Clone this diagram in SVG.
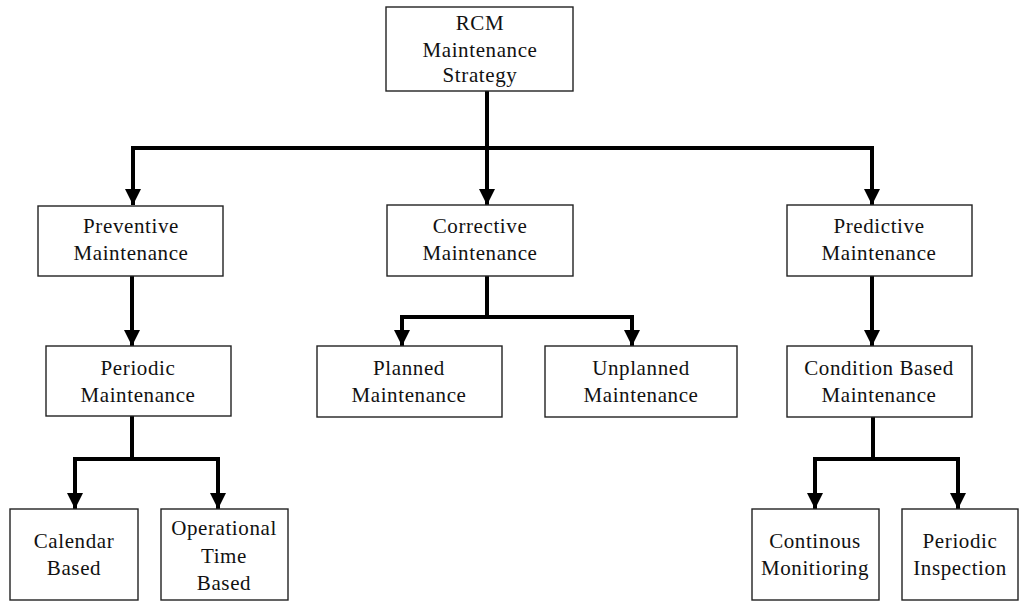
<svg xmlns="http://www.w3.org/2000/svg" width="1019" height="602" viewBox="0 0 1019 602">
  <style>
    .box { fill: #ffffff; stroke: #222222; stroke-width: 1.4; }
    .lbl { font-family: "Liberation Serif", "Times New Roman", serif; font-size: 21px; fill: #111111; text-anchor: middle; letter-spacing: 0.6px; }
    .wire { fill: none; stroke: #000000; stroke-width: 4; stroke-linejoin: miter; }
  </style>
  <defs>
    <!-- solid downward arrowhead for the tree connectors -->
    <marker id="head" markerUnits="userSpaceOnUse" markerWidth="16" markerHeight="16" viewBox="0 0 16 16" refX="16" refY="8" orient="auto">
      <path d="M0,0 L16,8 L0,16 Z" fill="#000000"/>
    </marker>
  </defs>

  <!-- connectors -->
  <g id="connectors">
    <path class="wire" d="M487,91 V148"/>
    <path class="wire" d="M487,148 H133 V205" marker-end="url(#head)"/>
    <path class="wire" d="M487,148 V205" marker-end="url(#head)"/>
    <path class="wire" d="M487,148 H872 V205" marker-end="url(#head)"/>

    <path class="wire" d="M132,276 V346" marker-end="url(#head)"/>
    <path class="wire" d="M872,276 V346" marker-end="url(#head)"/>

    <path class="wire" d="M487,276 V317"/>
    <path class="wire" d="M487,317 H402 V346" marker-end="url(#head)"/>
    <path class="wire" d="M487,317 H632 V346" marker-end="url(#head)"/>

    <path class="wire" d="M132,416 V459"/>
    <path class="wire" d="M132,459 H75 V509" marker-end="url(#head)"/>
    <path class="wire" d="M132,459 H218 V509" marker-end="url(#head)"/>

    <path class="wire" d="M873,416 V459"/>
    <path class="wire" d="M873,459 H815 V509" marker-end="url(#head)"/>
    <path class="wire" d="M873,459 H958 V509" marker-end="url(#head)"/>
  </g>

  <!-- nodes -->
  <g id="rcm">
    <rect class="box" x="386" y="7" width="187" height="84"/>
    <text class="lbl" x="480" y="30">RCM</text>
    <text class="lbl" x="480" y="57">Maintenance</text>
    <text class="lbl" x="480" y="82">Strategy</text>
  </g>

  <g id="preventive">
    <rect class="box" x="38" y="206" width="185" height="70"/>
    <text class="lbl" x="131" y="233">Preventive</text>
    <text class="lbl" x="131" y="260">Maintenance</text>
  </g>

  <g id="corrective">
    <rect class="box" x="387" y="205" width="186" height="71"/>
    <text class="lbl" x="480" y="233">Corrective</text>
    <text class="lbl" x="480" y="260">Maintenance</text>
  </g>

  <g id="predictive">
    <rect class="box" x="787" y="205" width="185" height="71"/>
    <text class="lbl" x="879" y="233">Predictive</text>
    <text class="lbl" x="879" y="260">Maintenance</text>
  </g>

  <g id="periodic">
    <rect class="box" x="46" y="346" width="185" height="70"/>
    <text class="lbl" x="138" y="375">Periodic</text>
    <text class="lbl" x="138" y="402">Maintenance</text>
  </g>

  <g id="planned">
    <rect class="box" x="317" y="346" width="185" height="71"/>
    <text class="lbl" x="409" y="375">Planned</text>
    <text class="lbl" x="409" y="402">Maintenance</text>
  </g>

  <g id="unplanned">
    <rect class="box" x="545" y="346" width="192" height="71"/>
    <text class="lbl" x="641" y="375">Unplanned</text>
    <text class="lbl" x="641" y="402">Maintenance</text>
  </g>

  <g id="condition-based">
    <rect class="box" x="787" y="346" width="185" height="71"/>
    <text class="lbl" x="879" y="375">Condition Based</text>
    <text class="lbl" x="879" y="402">Maintenance</text>
  </g>

  <g id="calendar-based">
    <rect class="box" x="10" y="509" width="128" height="91"/>
    <text class="lbl" x="74" y="548">Calendar</text>
    <text class="lbl" x="74" y="575">Based</text>
  </g>

  <g id="operational-time-based">
    <rect class="box" x="161" y="509" width="127" height="91"/>
    <text class="lbl" x="224" y="535">Operational</text>
    <text class="lbl" x="224" y="563">Time</text>
    <text class="lbl" x="224" y="590">Based</text>
  </g>

  <g id="continuous-monitoring">
    <rect class="box" x="752" y="509" width="127" height="91"/>
    <text class="lbl" x="815" y="548">Continous</text>
    <text class="lbl" x="815" y="575">Monitioring</text>
  </g>

  <g id="periodic-inspection">
    <rect class="box" x="902" y="509" width="116" height="91"/>
    <text class="lbl" x="960" y="548">Periodic</text>
    <text class="lbl" x="960" y="575">Inspection</text>
  </g>
</svg>
